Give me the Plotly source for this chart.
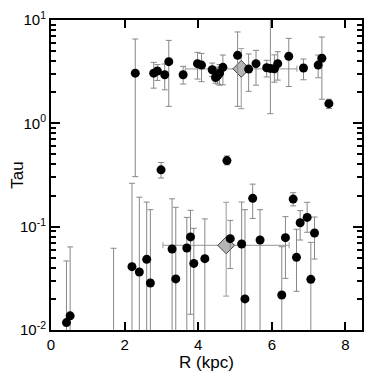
import plotly.graph_objects as go

# upper group (tau ~ 3)
up_r = [2.29, 2.79, 2.89, 3.09, 3.20, 3.59, 3.98, 4.09, 4.38, 4.47, 4.53, 4.58, 4.67, 5.07,
        5.37, 5.57, 5.86, 5.96, 6.07, 6.16, 6.46, 6.86, 7.26, 7.36, 7.55]
up_tau = [3.06, 3.06, 3.21, 2.95, 3.95, 2.95, 3.78, 3.66, 3.30, 2.78, 2.90, 3.06, 3.48, 4.55,
          3.35, 3.78, 3.45, 3.40, 3.37, 3.78, 4.45, 3.43, 3.66, 4.26, 1.55]
up_hi = [6.55, 3.89, 3.70, 3.75, 6.35, 3.56, 4.86, 4.75, 3.83, 3.40, 3.50, 3.70, 4.58, 7.66,
         4.69, 5.08, 4.07, 14.0, 4.60, 4.93, 6.64, 4.19, 4.58, 6.84, 1.71]
up_lo = [0.305, 2.19, 2.60, 2.11, 1.46, 2.40, 2.68, 2.53, 2.84, 2.45, 2.40, 2.34, 2.36, 1.46,
         2.04, 2.34, 2.81, 1.24, 2.50, 2.62, 2.27, 2.64, 2.76, 1.71, 1.39]

# middle points
mid_r = [2.99, 4.78]
mid_tau = [0.355, 0.436]
mid_hi = [0.418, 0.484]
mid_lo = [0.296, 0.396]

# lower group (tau ~ 0.05), lower ends run off the axis
lo_r = [0.42, 0.52, 1.70, 2.20, 2.40, 2.60, 2.70, 3.29, 3.39, 3.69, 3.79, 3.88, 4.18, 4.87,
        5.18, 5.27, 5.48, 5.68, 6.27, 6.37, 6.58, 6.67, 6.77, 6.96, 7.06, 7.16]
lo_tau = [0.0118, 0.0137, 0.005, 0.041, 0.0364, 0.0483, 0.0285, 0.0608, 0.0312, 0.0622, 0.0796,
          0.0441, 0.049, 0.0766, 0.068, 0.020, 0.188, 0.0743, 0.0218, 0.0783, 0.185, 0.0505,
          0.109, 0.123, 0.0309, 0.0869]
lo_hi = [0.0466, 0.0637, 0.0618, 0.263, 0.193, 0.173, 0.146, 0.186, 0.154, 0.123, 0.144,
         0.0964, 0.119, 0.115, 0.173, 0.146, 0.258, 0.146, 0.064, 0.125, 0.213, 0.0944,
         0.143, 0.172, 0.0705, 0.124]
lo_lo = [0.001, 0.001, 0.001, 0.001, 0.001, 0.001, 0.001, 0.001, 0.001, 0.001, 0.0142,
         0.001, 0.001, 0.0393, 0.001, 0.001, 0.120, 0.001, 0.001, 0.0316, 0.159, 0.0237,
         0.0743, 0.0883, 0.001, 0.0486]

# mean values (diamonds)
avg_r = [5.17, 4.76]
avg_tau = [3.37, 0.066]
avg_r_lo = [3.65, 3.04]
avg_r_hi = [6.68, 6.47]
avg_hi = [5.3, 0.172]
avg_lo = [1.39, 0.0213]

minor_vals = [0.02, 0.03, 0.04, 0.05, 0.06, 0.07, 0.08, 0.09,
              0.2, 0.3, 0.4, 0.5, 0.6, 0.7, 0.8, 0.9,
              2, 3, 4, 5, 6, 7, 8, 9]

r_all = up_r + mid_r + lo_r
tau_all = up_tau + mid_tau + lo_tau
hi_all = up_hi + mid_hi + lo_hi
lo_all = up_lo + mid_lo + lo_lo

fig = go.Figure()

fig.add_scatter(
    x=avg_r, y=avg_tau, mode="markers",
    marker=dict(symbol="diamond", size=13, color="#b4b4b4", line=dict(color="#444444", width=1)),
    error_x=dict(type="data", symmetric=False,
                 array=[h - r for h, r in zip(avg_r_hi, avg_r)],
                 arrayminus=[r - l for r, l in zip(avg_r, avg_r_lo)],
                 color="#aaaaaa", thickness=1.2, width=3),
    error_y=dict(type="data", symmetric=False,
                 array=[h - t for h, t in zip(avg_hi, avg_tau)],
                 arrayminus=[t - l for t, l in zip(avg_tau, avg_lo)],
                 color="#aaaaaa", thickness=1.2, width=3),
    showlegend=False,
)

fig.add_scatter(
    x=r_all, y=tau_all, mode="markers",
    marker=dict(symbol="circle", size=9, color="black"),
    error_y=dict(type="data", symmetric=False,
                 array=[h - t for h, t in zip(hi_all, tau_all)],
                 arrayminus=[t - l for t, l in zip(tau_all, lo_all)],
                 color="#888888", thickness=1, width=3),
    showlegend=False,
)

# page body has an 8px margin, so the figure is a bit smaller and shifted
fig.update_layout(
    width=374, height=368,
    margin=dict(l=43, r=20, t=12, b=46),
    paper_bgcolor="white", plot_bgcolor="white",
    font=dict(family="Liberation Sans", color="black", size=15),
)

fig.update_xaxes(
    range=[0, 8.45], tickvals=[0, 2, 4, 6, 8], automargin=False,
    ticks="inside", ticklen=8, tickwidth=1.5, tickcolor="black",
    showline=True, linecolor="black", linewidth=2, mirror="allticks",
    showgrid=False, zeroline=False,
    title=dict(text="R (kpc)", font=dict(size=17), standoff=2),
)

fig.update_yaxes(
    type="log", range=[-2, 1], automargin=False,
    tickvals=[0.01, 0.1, 1, 10],
    ticktext=["10<sup>-2</sup>", "10<sup>-1</sup>", "10<sup>0</sup>", "10<sup>1</sup>"],
    ticks="inside", ticklen=9, tickwidth=1.5, tickcolor="black",
    minor=dict(ticks="inside", ticklen=5, tickwidth=1.5, tickcolor="black",
               tickvals=minor_vals, showgrid=False),
    showline=True, linecolor="black", linewidth=2, mirror="allticks",
    showgrid=False, zeroline=False,
    title=dict(text="Tau", font=dict(size=17), standoff=2),
)

fig.write_html("out.html")
